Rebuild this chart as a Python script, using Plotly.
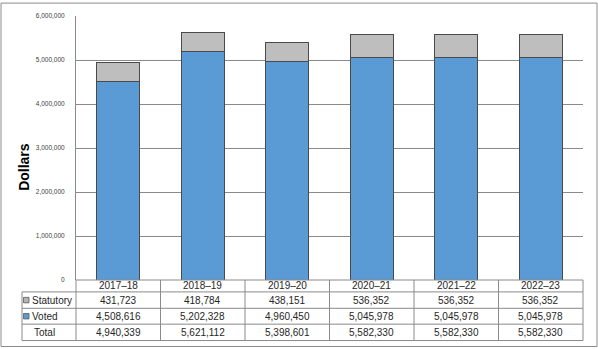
import plotly.graph_objects as go

# ---- data ----
years = ["2017–18", "2018–19", "2019–20", "2020–21", "2021–22", "2022–23"]
statutory = [431723, 418784, 438151, 536352, 536352, 536352]
voted = [4508616, 5202328, 4960450, 5045978, 5045978, 5045978]
totals = [s + v for s, v in zip(statutory, voted)]

# ---- geometry (pixels) ----
W, H = 598, 349
L, R, T, B = 76, 15, 14, 69
PW, PH = W - L - R, H - T - B
X0, Y0 = L, H - B  # plot-area left / bottom in pixels


def px(x):
    return (x - X0) / PW


def py(y):
    return (Y0 - y) / PH


FONT = "Liberation Sans, Arial, sans-serif"
GRID = "#8a8a8a"
TXT = "#262626"
BLUE = "#5b9bd5"

fig = go.Figure()
fig.add_bar(
    x=years, y=voted, name="Voted",
    marker=dict(color=BLUE, line=dict(color="#4a4a4a", width=1)),
    width=0.51,
)
fig.add_bar(
    x=years, y=statutory, name="Statutory",
    marker=dict(
        color="#bdbdbd",
        line=dict(color="#4a4a4a", width=1),
        pattern=dict(shape=".", size=2, solidity=0.5, fgcolor="#9e9e9e", bgcolor="#c6c6c6"),
    ),
    width=0.51,
)

fig.update_layout(
    width=W, height=H,
    barmode="stack",
    showlegend=False,
    paper_bgcolor="white", plot_bgcolor="white",
    margin=dict(l=L, r=R, t=T, b=B, pad=0),
    font=dict(family=FONT, color=TXT),
    xaxis=dict(showticklabels=False, showgrid=False, ticks="", showline=False,
               zeroline=False, range=[-0.5, len(years) - 0.5]),
    yaxis=dict(range=[0, 6000000], dtick=1000000, tickformat=",d",
               showgrid=True, gridcolor=GRID, gridwidth=1,
               showline=True, linecolor=GRID, linewidth=1,
               zeroline=False, ticks="", ticklabelstandoff=9,
               tickfont=dict(size=6.5, color="#404040")),
)

shapes = []


def hline(x1, x2, y, color=GRID):
    shapes.append(dict(type="line", xref="paper", yref="paper",
                       x0=px(x1), x1=px(x2), y0=py(y), y1=py(y),
                       line=dict(color=color, width=1)))


def vline(x, y1, y2, color=GRID):
    shapes.append(dict(type="line", xref="paper", yref="paper",
                       x0=px(x), x1=px(x), y0=py(y1), y1=py(y2),
                       line=dict(color=color, width=1)))


# outer frame
shapes.append(dict(type="rect", xref="paper", yref="paper",
                   x0=px(1), x1=px(597), y0=py(1), y1=py(347),
                   line=dict(color="#8c8c8c", width=1), layer="below"))

# data table grid
rows = [280, 292, 308.5, 324.5, 341]
TL = 22
XR = X0 + PW
hline(X0, XR, rows[0])
for ry in rows[1:]:
    hline(TL, XR, ry)
vline(TL, rows[1], rows[-1])
vline(X0, rows[0], rows[-1])
col_w = PW / len(years)
for k in range(1, len(years)):
    vline(X0 + k * col_w, rows[0], rows[-1])
vline(XR, rows[0], rows[-1])

# legend swatches inside the row headers
for (ry0, ry1), col in [((rows[1], rows[2]), "#b4b4b4"), ((rows[2], rows[3]), BLUE)]:
    cy = (ry0 + ry1) / 2
    shapes.append(dict(type="rect", xref="paper", yref="paper",
                       x0=px(23.5), x1=px(29), y0=py(cy - 2.75), y1=py(cy + 2.75),
                       fillcolor=col, line=dict(color="#595959", width=0.8)))

fig.update_layout(shapes=shapes)

ann = []
cells = [
    [(rows[0] + rows[1]) / 2, years],
    [(rows[1] + rows[2]) / 2, [f"{v:,}" for v in statutory]],
    [(rows[2] + rows[3]) / 2, [f"{v:,}" for v in voted]],
    [(rows[3] + rows[4]) / 2, [f"{v:,}" for v in totals]],
]
for cy, texts in cells:
    for i, t in enumerate(texts):
        ann.append(dict(x=i, xref="x", y=py(cy), yref="paper", text=t,
                        showarrow=False, xanchor="center", yanchor="middle",
                        font=dict(size=10, color=TXT)))

row_labels = [("Statutory", 29.5), ("Voted", 29.5), ("Total", 32)]
for (lab, lx), cy in zip(row_labels, [c[0] for c in cells[1:]]):
    ann.append(dict(x=px(lx), xref="paper", y=py(cy), yref="paper", text=lab,
                    showarrow=False, xanchor="left", yanchor="middle",
                    font=dict(size=10, color=TXT)))

# axis title
ann.append(dict(x=px(24), xref="paper", y=py(166), yref="paper", text="<b>Dollars</b>",
                showarrow=False, textangle=-90, xanchor="center", yanchor="middle",
                font=dict(size=14, color="#000000")))

fig.update_layout(annotations=ann)
fig.write_html("out.html")
